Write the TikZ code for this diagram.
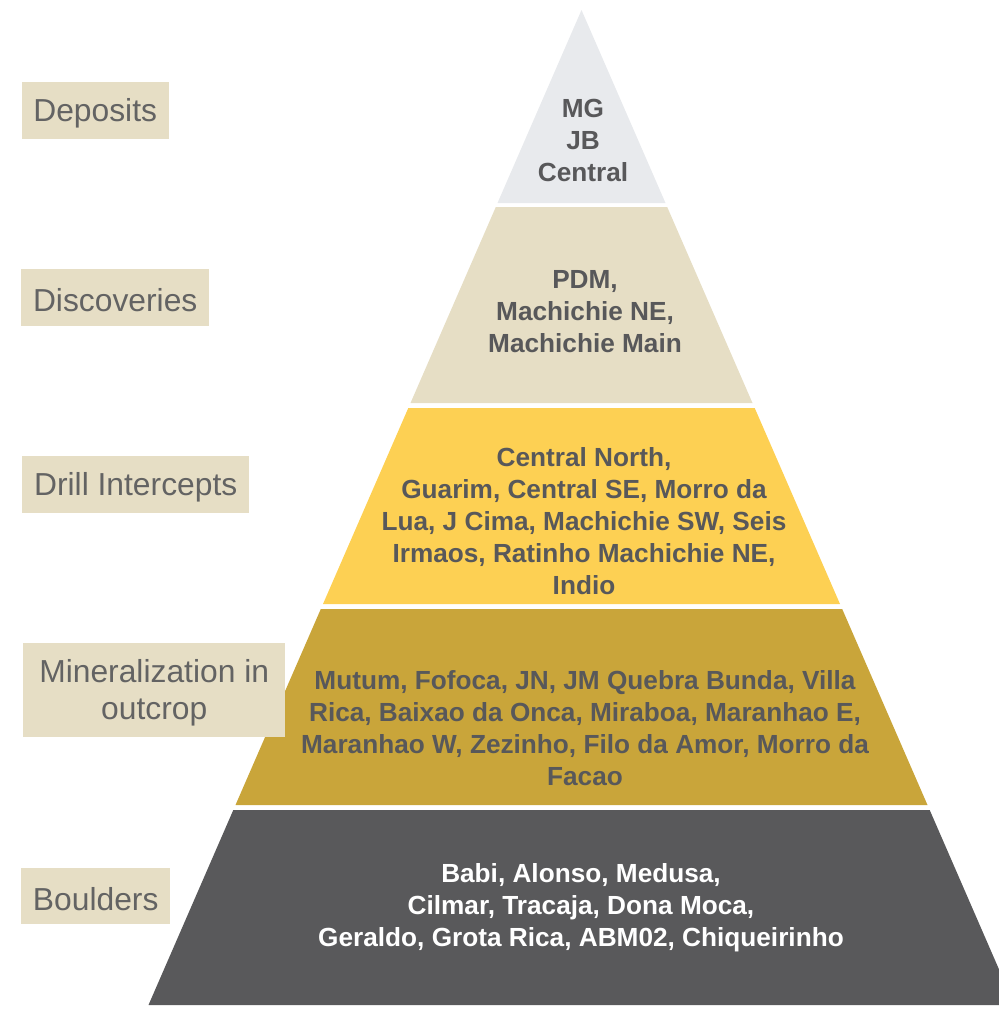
\documentclass[tikz,border=0pt]{standalone}
\usepackage{fontspec}
\setmainfont{Liberation Sans}
\definecolor{bandA}{HTML}{E8EAED}
\definecolor{bandB}{HTML}{E6DEC5}
\definecolor{bandC}{HTML}{FDD053}
\definecolor{bandD}{HTML}{C9A53A}
\definecolor{bandE}{HTML}{59595B}
\definecolor{lblfill}{HTML}{E6DEC5}
\definecolor{lbltext}{HTML}{636363}
\definecolor{pyrtext}{HTML}{58585A}
\begin{document}
\begin{tikzpicture}[x=1pt,y=-1pt,
  lblbox/.style={fill=lblfill, anchor=west, inner sep=0pt},
  lbltxt/.style={text=lbltext, inner sep=0pt,
    font=\fontsize{31.8}{36.5}\selectfont, align=center},
  ptxt/.style={text=pyrtext, align=center, inner sep=0pt,
    font=\fontsize{26.2}{32}\selectfont\bfseries},
  wtxt/.style={ptxt, text=white}]
\useasboundingbox (0,0) rectangle (999,1010);
\begin{scope}
\clip (0,0) rectangle (999,1010);
\fill[bandA] (581.5,10) -- (665.5,203) -- (497.5,203) -- cycle;
\fill[bandB] (495.8,207) -- (667.2,207) -- (752.5,403) -- (410.5,403) -- cycle;
\fill[bandC] (408.3,408) -- (754.7,408) -- (840.0,604) -- (323.0,604) -- cycle;
\fill[bandD] (320.8,609) -- (842.2,609) -- (927.5,805) -- (235.5,805) -- cycle;
\fill[bandE] (233.3,810) -- (929.7,810) -- (1014.5,1005) -- (148.5,1005) -- cycle;
\end{scope}
% pyramid texts
\node[ptxt] (t1) at (583,140) {MG\\JB\\Central};
\node[ptxt] (t2) at (585,312) {PDM,\\Machichie NE,\\Machichie Main};
\node[ptxt] (t3) at (584,521) {Central North,\\Guarim, Central SE, Morro da\\Lua, J Cima, Machichie SW, Seis\\Irmaos, Ratinho Machichie NE,\\Indio};
\node[ptxt] (t4) at (585,728) {Mutum, Fofoca, JN, JM Quebra Bunda, Villa\\Rica, Baixao da Onca, Miraboa, Maranhao E,\\Maranhao W, Zezinho, Filo da Amor, Morro da\\Facao};
\node[wtxt] (t5) at (581,908) {Babi, Alonso, Medusa,\\Cilmar, Tracaja, Dona Moca,\\Geraldo, Grota Rica, ABM02, Chiqueirinho};
% label boxes
\node[lblbox, minimum width=147pt, minimum height=57pt] (b1) at (22,110.5) {};
\node[lblbox, minimum width=188pt, minimum height=57pt] (b2) at (21,297.5) {};
\node[lblbox, minimum width=227pt, minimum height=57pt] (b3) at (22,484.5) {};
\node[lblbox, minimum width=262pt, minimum height=94pt] (b4) at (23,690) {};
\node[lblbox, minimum width=149pt, minimum height=56pt] (b5) at (21,896) {};
% label texts
\node[lbltxt] (l1) at ([xshift=-0.5pt,yshift=-3pt]b1.center) {Deposits};
\node[lbltxt] (l2) at ([yshift=-3pt]b2.center) {Discoveries};
\node[lbltxt] (l3) at ([yshift=-3pt]b3.center) {Drill Intercepts};
\node[lbltxt] (l4) at ([yshift=-3pt]b4.center) {Mineralization in\\outcrop};
\node[lbltxt] (l5) at ([yshift=-3pt]b5.center) {Boulders};
\end{tikzpicture}
\end{document}
